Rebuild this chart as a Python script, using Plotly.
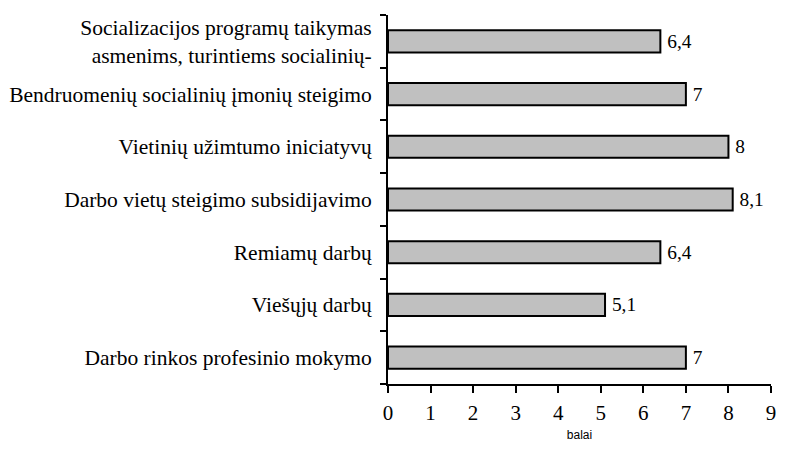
import plotly.graph_objects as go

categories = [
    "Darbo rinkos profesinio mokymo",
    "Viešųjų darbų",
    "Remiamų darbų",
    "Darbo vietų steigimo subsidijavimo",
    "Vietinių užimtumo iniciatyvų",
    "Bendruomenių socialinių įmonių steigimo",
    "Socializacijos programų taikymas<br>asmenims, turintiems socialinių-",
]
values = [7, 5.1, 6.4, 8.1, 8, 7, 6.4]
x_ticks = [0, 1, 2, 3, 4, 5, 6, 7, 8, 9]
x_title = "balai"

labels = [("%g" % v).replace(".", ",") for v in values]

serif = "Liberation Serif"
FS = 21

fig = go.Figure(go.Bar(
    y=categories, x=values, orientation="h",
    marker=dict(color="#C0C0C0", line=dict(color="black", width=2)),
    width=0.42,
    text=labels, texttemplate="\u2009%{text}", textposition="outside", cliponaxis=False,
    textfont=dict(family=serif, size=FS, color="black"),
))

# the page body adds an 8px margin, so the figure is sized to fit inside the window
fig.update_layout(
    width=777, height=434,
    margin=dict(l=380, r=14, t=7, b=58),
    plot_bgcolor="white", paper_bgcolor="white",
    showlegend=False,
    font=dict(family=serif, size=FS, color="black"),
)
fig.update_xaxes(
    range=[0, 9], tickvals=x_ticks, showgrid=False, zeroline=False,
    showline=True, linecolor="black", linewidth=2,
    ticks="outside", ticklen=7, tickwidth=2, tickcolor="black",
    tickfont=dict(family=serif, size=FS), ticklabeloverflow="allow",
    ticklabelstandoff=2, automargin=False,
    title=dict(text=x_title, font=dict(family="Liberation Sans", size=12), standoff=16),
)
fig.update_yaxes(
    categoryorder="array", categoryarray=categories,
    showgrid=False, showline=True, linecolor="black", linewidth=2,
    ticks="outside", ticklen=6, tickwidth=2, tickcolor="black",
    tickson="boundaries", ticklabelstandoff=10, automargin=False,
    tickfont=dict(family=serif, size=21.5),
)

fig.write_html("out.html")
